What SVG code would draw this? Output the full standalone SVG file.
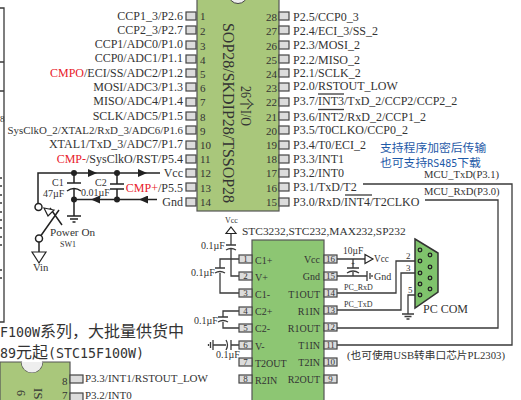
<svg xmlns="http://www.w3.org/2000/svg" width="521" height="400" viewBox="0 0 521 400">
<style>
text{font-family:"Liberation Serif","Noto Sans CJK SC",serif;fill:#333}
.l{font-size:12px;text-anchor:end}
.r{font-size:12px}
.n{font-size:11px}
.ne{font-size:11px;text-anchor:end}
.ic{font-size:10px}
.ice{font-size:10px;text-anchor:end}
.v{font-size:10px}
.m{font-size:10.600px}
.s{font-size:9px}
.red{fill:#e8202a}
.cn{font-family:"Noto Sans CJK SC",sans-serif;font-size:16px}
.hw{font-family:"DejaVu Sans Mono",monospace;font-size:13.300px}
.blue{font-family:"Noto Sans CJK SC",sans-serif;fill:#1f5aa8;font-size:11.800px}
.bw{font-family:"DejaVu Sans Mono",monospace;font-size:10px;fill:#1f5aa8}
.pin{fill:#dcdcdc;stroke:#444;stroke-width:1.2}
.chip{stroke:#555;stroke-width:1.2}
.w{fill:none;stroke:#3a3a3a;stroke-width:1.3}
.b{fill:none;stroke:#222;stroke-width:1.5}
.t{fill:#fff;stroke:#222;stroke-width:1.2}
.d{fill:#222}
</style>
<defs>
<marker id="a" markerUnits="userSpaceOnUse" markerWidth="10" markerHeight="8" refX="9" refY="4" orient="auto"><path d="M0 0L9 4L0 8Z" fill="#222"/></marker>
</defs>

<g id="edge-left">
<path class="w" d="M0 8H4V322H0M0 62H4M0 91H4"/>
<path class="w" d="M0 178H2M0 186H2M0 195H2M0 203H2M0 212H2M0 220H2M0 228H2M0 237H2M0 245H2M0 270H2M0 278H2"/>
<text x="0" y="122" class="s">8</text>
</g>

<g id="connectors">
<path class="b" d="M38 203V173H97" marker-end="url(#a)"/>
<path class="b" d="M97 173H147" marker-end="url(#a)"/>
<path class="b" d="M147 173H160"/>
<path class="b" d="M157 199.500H139" marker-end="url(#a)"/>
<path class="b" d="M139 199.500H91" marker-end="url(#a)"/>
<path class="b" d="M91 199.500H74"/>
<path class="b" d="M74 173V183M74 189V216M117 173V184M117 189V199.500"/>
<path class="w" d="M239 259H220V268M220 273V293H239"/>
<path class="w" d="M231 234V245M231 249V276H239"/>
<path class="w" d="M239 311H223V317M223 322V328H239"/>
<path class="w" d="M239 345H231M226 345H213"/>
<path class="w" d="M337 259H365M353 259V268M353 272V276M337 276H367"/>
<path class="w" d="M337 293H396V261H418"/>
<path class="w" d="M337 310H401V273H418"/>
<path class="w" d="M418 295H408V314"/>
<path class="w" d="M337 328H498V200H425"/>
<path class="w" d="M337 345H512V184H363"/>
</g>

<g id="chip-main">
<rect class="chip" x="197" y="-5" width="82" height="216" fill="#a9c77b"/>
<circle cx="238" cy="-6" r="9.500" fill="#eeeeee" stroke="#444"/>
<text transform="translate(223 23) rotate(90)" font-size="17" textLength="180" lengthAdjust="spacingAndGlyphs">SOP28/SKDIP28/TSSOP28</text>
<text transform="translate(241 86) rotate(90)" font-size="15" textLength="40" lengthAdjust="spacingAndGlyphs">26个I/O</text>
</g>

<g id="pins-left">
<rect class="pin" x="186" y="12" width="10" height="8"/><text x="200" y="20" class="n">1</text><text x="183" y="20" class="l">CCP1_3/P2.6</text>
<rect class="pin" x="186" y="26" width="10" height="8"/><text x="200" y="35" class="n">2</text><text x="183" y="34" class="l">CCP2_3/P2.7</text>
<rect class="pin" x="186" y="41" width="10" height="8"/><text x="200" y="50" class="n">3</text><text x="183" y="48" class="l">CCP1/ADC0/P1.0</text>
<rect class="pin" x="186" y="55" width="10" height="8"/><text x="200" y="64" class="n">4</text><text x="183" y="62" class="l">CCP0/ADC1/P1.1</text>
<rect class="pin" x="186" y="69" width="10" height="8"/><text x="200" y="78" class="n">5</text><text x="183" y="77" class="l"><tspan class="red">CMPO</tspan>/ECI/SS/ADC2/P1.2</text>
<rect class="pin" x="186" y="83" width="10" height="8"/><text x="200" y="92" class="n">6</text><text x="183" y="91" class="l">MOSI/ADC3/P1.3</text>
<rect class="pin" x="186" y="98" width="10" height="8"/><text x="200" y="106" class="n">7</text><text x="183" y="105" class="l">MISO/ADC4/P1.4</text>
<rect class="pin" x="186" y="112" width="10" height="8"/><text x="200" y="121" class="n">8</text><text x="183" y="120" class="l">SCLK/ADC5/P1.5</text>
<rect class="pin" x="186" y="126" width="10" height="8"/><text x="200" y="135" class="n">9</text><text x="183" y="134" class="l" style="font-size:10.900px">SysClkO_2/XTAL2/RxD_3/ADC6/P1.6</text>
<rect class="pin" x="186" y="141" width="10" height="8"/><text x="200" y="149" class="n">10</text><text x="183" y="148" class="l">XTAL1/TxD_3/ADC7/P1.7</text>
<rect class="pin" x="186" y="155" width="10" height="8"/><text x="200" y="163" class="n">11</text><text x="183" y="163" class="l"><tspan class="red">CMP-</tspan>/SysClkO/RST/P5.4</text>
<rect class="pin" x="186" y="169" width="10" height="8"/><text x="200" y="177" class="n">12</text><text x="183" y="177" class="l">Vcc</text>
<rect class="pin" x="186" y="183" width="10" height="8"/><text x="200" y="192" class="n">13</text><text x="183" y="192" class="l"><tspan class="red">CMP+</tspan>/P5.5</text>
<rect class="pin" x="186" y="198" width="10" height="8"/><text x="200" y="206" class="n">14</text><text x="183" y="206" class="l">Gnd</text>
</g>

<g id="pins-right">
<rect class="pin" x="279" y="12" width="10" height="8"/><text x="277" y="21" class="ne">28</text><text x="293" y="21" class="r">P2.5/CCP0_3</text>
<rect class="pin" x="279" y="26" width="10" height="8"/><text x="277" y="35" class="ne">27</text><text x="293" y="35" class="r">P2.4/ECI_3/SS_2</text>
<rect class="pin" x="279" y="41" width="10" height="8"/><text x="277" y="50" class="ne">26</text><text x="293" y="49" class="r">P2.3/MOSI_2</text>
<rect class="pin" x="279" y="55" width="10" height="8"/><text x="277" y="64" class="ne">25</text><text x="293" y="64" class="r">P2.2/MISO_2</text>
<rect class="pin" x="279" y="69" width="10" height="8"/><text x="277" y="78" class="ne">24</text><text x="293" y="77" class="r">P2.1/SCLK_2</text>
<rect class="pin" x="279" y="83" width="10" height="8"/><text x="277" y="92" class="ne">23</text><text x="293" y="90" class="r">P2.0/RSTOUT_LOW</text>
<rect class="pin" x="279" y="98" width="10" height="8"/><text x="277" y="106" class="ne">22</text><text x="293" y="105" class="r">P3.7/INT3/TxD_2/CCP2/CCP2_2</text><path class="w" d="M318 94H344"/>
<rect class="pin" x="279" y="112" width="10" height="8"/><text x="277" y="121" class="ne">21</text><text x="293" y="121" class="r">P3.6/INT2/RxD_2/CCP1_2</text><path class="w" d="M318 109.500H344"/>
<rect class="pin" x="279" y="126" width="10" height="8"/><text x="277" y="135" class="ne">20</text><text x="293" y="134" class="r">P3.5/T0CLKO/CCP0_2</text>
<rect class="pin" x="279" y="141" width="10" height="8"/><text x="277" y="149" class="ne">19</text><text x="293" y="149" class="r">P3.4/T0/ECI_2</text>
<rect class="pin" x="279" y="155" width="10" height="8"/><text x="277" y="163" class="ne">18</text><text x="293" y="163" class="r">P3.3/INT1</text>
<rect class="pin" x="279" y="169" width="10" height="8"/><text x="277" y="177" class="ne">17</text><text x="293" y="177" class="r">P3.2/INT0</text>
<rect class="pin" x="279" y="183" width="10" height="8"/><text x="277" y="192" class="ne">16</text><text x="293" y="191" class="r">P3.1/TxD/T2</text>
<rect class="pin" x="279" y="198" width="10" height="8"/><text x="277" y="206" class="ne">15</text><text x="293" y="206" class="r">P3.0/RxD/INT4/T2CLKO</text><path class="w" d="M345 195H372"/>
</g>

<g id="note-blue">
<text x="380" y="152" class="blue">支持程序加密后传输</text>
<text x="380" y="167" class="blue">也可支持<tspan class="bw">RS485</tspan>下载</text>
</g>

<g id="labels-mcu">
<text x="424" y="178" class="m">MCU_TxD(P3.1)</text>
<text x="424" y="195" class="m">MCU_RxD(P3.0)</text>
</g>

<g id="power-circuit">
<circle class="d" cx="74" cy="173" r="3"/><circle class="d" cx="117" cy="173" r="3"/>
<circle class="d" cx="74" cy="199.500" r="3"/><circle class="d" cx="117" cy="199.500" r="3"/>
<path class="b" d="M67 183H81M67 191Q74 186 81 191M110 184H124M110 189H124"/>
<path class="b" d="M67 216H81M70 219H78M72.500 222H75.500"/>
<text x="52" y="186" class="v">C1</text><text x="43" y="197" class="v">47µF</text>
<text x="95" y="186" class="v">C2</text><text x="81" y="196" class="v">0.01µF</text>
</g>

<g id="switch-sw1">
<circle cx="38.500" cy="207" r="3.500" fill="#fff" stroke="#222" stroke-width="1.500"/>
<circle cx="39" cy="238.500" r="3.500" fill="#fff" stroke="#222" stroke-width="1.500"/>
<path class="b" d="M41 235.500L59 210M50 208L62 225M39 242V252"/>
<path class="t" d="M44 208L54 210L48 216Z"/>
<path class="t" d="M32 252H46L39 263Z"/>
<text x="33" y="271" style="font-size:10.700px">Vin</text>
<text x="50" y="236" style="font-size:11.200px">Power On</text>
<text x="60" y="247" font-size="8">SW1</text>
</g>

<g id="chip-rs232">
<rect class="chip" x="252" y="240" width="72" height="165" fill="#8dc673"/>
<text x="242" y="235" font-size="11.400">STC3232,STC232,MAX232,SP232</text>
<rect class="pin" x="239" y="255" width="13" height="8"/><text x="245.500" y="262" class="s" text-anchor="middle">1</text><text x="255" y="264" class="ic">C1+</text>
<rect class="pin" x="239" y="272" width="13" height="8"/><text x="245.500" y="279" class="s" text-anchor="middle">2</text><text x="255" y="281" class="ic">V+</text>
<rect class="pin" x="239" y="289" width="13" height="8"/><text x="245.500" y="296" class="s" text-anchor="middle">3</text><text x="255" y="298" class="ic">C1-</text>
<rect class="pin" x="239" y="307" width="13" height="8"/><text x="245.500" y="314" class="s" text-anchor="middle">4</text><text x="255" y="315" class="ic">C2+</text>
<rect class="pin" x="239" y="324" width="13" height="8"/><text x="245.500" y="331" class="s" text-anchor="middle">5</text><text x="255" y="332" class="ic">C2-</text>
<rect class="pin" x="239" y="341" width="13" height="8"/><text x="245.500" y="348" class="s" text-anchor="middle">6</text><text x="255" y="350" class="ic">V-</text>
<rect class="pin" x="239" y="358" width="13" height="8"/><text x="245.500" y="365" class="s" text-anchor="middle">7</text><text x="255" y="367" class="ic">T2OUT</text>
<rect class="pin" x="239" y="375" width="13" height="8"/><text x="245.500" y="382" class="s" text-anchor="middle">8</text><text x="255" y="384" class="ic">R2IN</text>
<rect class="pin" x="324" y="255" width="13" height="8"/><text x="330.500" y="262" class="s" text-anchor="middle">16</text><text x="320" y="263" class="ice">Vcc</text>
<rect class="pin" x="324" y="272" width="13" height="8"/><text x="330.500" y="279" class="s" text-anchor="middle">15</text><text x="320" y="280" class="ice">Gnd</text>
<rect class="pin" x="324" y="289" width="13" height="8"/><text x="330.500" y="296" class="s" text-anchor="middle">14</text><text x="320" y="298" class="ice">T1OUT</text>
<rect class="pin" x="324" y="306" width="13" height="8"/><text x="330.500" y="313" class="s" text-anchor="middle">13</text><text x="320" y="315" class="ice">R1IN</text>
<rect class="pin" x="324" y="323" width="13" height="8"/><text x="330.500" y="330" class="s" text-anchor="middle">12</text><text x="320" y="332" class="ice">R1OUT</text>
<rect class="pin" x="324" y="341" width="13" height="8"/><text x="330.500" y="348" class="s" text-anchor="middle">11</text><text x="320" y="349" class="ice">T1IN</text>
<rect class="pin" x="324" y="358" width="13" height="8"/><text x="330.500" y="365" class="s" text-anchor="middle">10</text><text x="320" y="366" class="ice">T2IN</text>
<rect class="pin" x="324" y="375" width="13" height="8"/><text x="330.500" y="382" class="s" text-anchor="middle">9</text><text x="320" y="383" class="ice">R2OUT</text>
<text x="347" y="359" font-size="10.700">(也可使用USB转串口芯片PL2303)</text>
<text x="344" y="290" font-size="8">PC_RxD</text>
<text x="344" y="307" font-size="8">PC_TxD</text>
</g>

<g id="caps-rs232">
<path class="t" d="M231 227L236 233.500H226Z"/>
<text x="225" y="223" font-size="8">Vcc</text>
<path class="w" d="M226 245H236M226 250Q231 247 236 250"/>
<text x="201" y="249" class="v">0.1µF</text>
<path class="w" d="M215 268H225M215 273Q220 270 225 273"/>
<text x="191" y="276" class="v">0.1µF</text>
<path class="w" d="M218 317H228M218 322Q223 319 228 322"/>
<text x="194" y="324" class="v">0.1µF</text>
<path class="w" d="M231 340V350M226 340Q229 345 226 350"/>
<path class="w" d="M213 340V350M210.500 342V348M208.500 344V346"/>
<text x="216" y="358" class="v">0.1µF</text>
<path class="t" d="M365 254.500L373 259L365 263.500Z"/>
<text x="374" y="262" style="font-size:9.300px">Vcc</text>
<path class="w" d="M347 268H359M347 273Q353 269 359 273"/>
<text x="351" y="266" font-size="7">+</text>
<text x="343" y="254" style="font-size:9.500px">10µF</text>
<path class="w" d="M367 271V281M370 273V279M372 275V277"/>
<text x="374" y="280" class="v">Gnd</text>
</g>

<g id="pc-com">
<path d="M415 239L438 253V292L415 308Z" fill="#7fc36c" stroke="#333" stroke-width="1.500"/>
<g fill="none" stroke="#222" stroke-width="1.300">
<circle cx="420" cy="250" r="1.800"/><circle cx="420" cy="261" r="1.800"/><circle cx="420" cy="273" r="1.800"/><circle cx="420" cy="284" r="1.800"/><circle cx="420" cy="295" r="1.800"/>
<circle cx="430" cy="255" r="1.800"/><circle cx="430" cy="267" r="1.800"/><circle cx="430" cy="278" r="1.800"/><circle cx="430" cy="289" r="1.800"/>
</g>
<text x="406" y="259" class="s">2</text><text x="406" y="271" class="s">3</text><text x="408" y="293" class="s">5</text>
<path class="w" d="M402 314H414M404.500 316.500H411.500M406.500 319H409.500"/>
<text x="423" y="313" font-size="12">PC COM</text>
</g>

<g id="banner">
<text x="0" y="337" class="cn"><tspan class="hw">F100W</tspan>系列，大批量供货中</text>
<text x="0" y="358" class="cn"><tspan class="hw">89</tspan>元起<tspan class="hw">(STC15F100W)</tspan></text>
</g>

<g id="chip-bottom">
<path class="chip" d="M0 362H21.500A10.500 10.500 0 0 0 42.500 362H70V405H0Z" fill="#a9c77b"/>
<path d="M21.500 362A10.500 10.500 0 0 0 42.500 362Z" fill="#eeeeee"/>
<text transform="translate(34 388) rotate(90)" font-size="13">IS</text>
<text transform="translate(17 390) rotate(90)" font-size="12">6</text>
<text x="62" y="385" class="n">8</text>
<text x="62" y="399" class="n">7</text>
<rect class="pin" x="70" y="375" width="13" height="8"/>
<rect class="pin" x="70" y="393" width="13" height="8"/>
<text x="85" y="382" style="font-size:11px">P3.3/INT1/RSTOUT_LOW</text>
<text x="85" y="399" style="font-size:11px">P3.2/INT0</text>
</g>
</svg>
